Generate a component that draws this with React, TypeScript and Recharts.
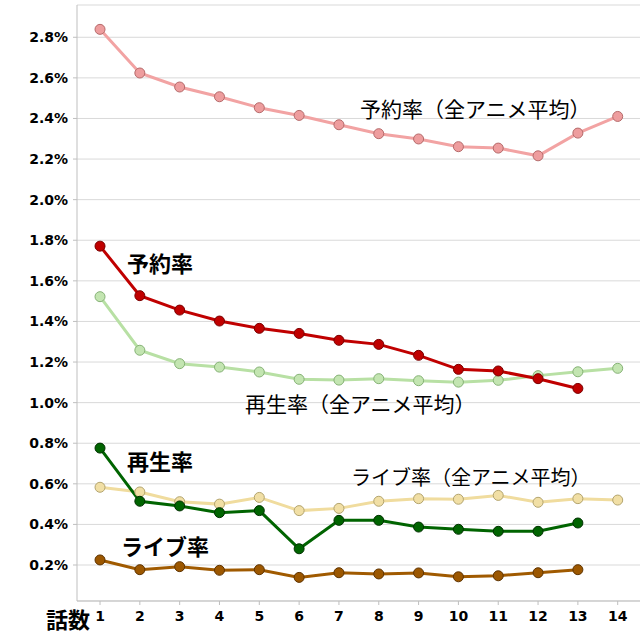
import { CartesianGrid, Line, LineChart, XAxis, YAxis } from 'recharts';

const episodes = [1, 2, 3, 4, 5, 6, 7, 8, 9, 10, 11, 12, 13, 14];

const reserveAvg = [2.839, 2.624, 2.555, 2.507, 2.453, 2.415, 2.369, 2.325, 2.299, 2.261, 2.254, 2.216, 2.328, 2.41];
const reserve = [1.771, 1.527, 1.456, 1.402, 1.366, 1.341, 1.307, 1.287, 1.233, 1.164, 1.156, 1.118, 1.07, null];
const playAvg = [1.522, 1.258, 1.192, 1.175, 1.151, 1.115, 1.111, 1.118, 1.108, 1.101, 1.11, 1.133, 1.152, 1.169];
const play = [0.776, 0.514, 0.491, 0.458, 0.468, 0.28, 0.42, 0.42, 0.387, 0.376, 0.366, 0.366, 0.407, null];
const liveAvg = [0.583, 0.56, 0.512, 0.5, 0.533, 0.468, 0.479, 0.514, 0.527, 0.524, 0.543, 0.509, 0.527, 0.52];
const live = [0.225, 0.177, 0.192, 0.174, 0.177, 0.139, 0.162, 0.156, 0.161, 0.142, 0.147, 0.162, 0.177, null];

const yTicks = [0.2, 0.4, 0.6, 0.8, 1.0, 1.2, 1.4, 1.6, 1.8, 2.0, 2.2, 2.4, 2.6, 2.8];

const data = episodes.map((ep, i) => ({
  ep,
  reserveAvg: reserveAvg[i],
  reserve: reserve[i],
  playAvg: playAvg[i],
  play: play[i],
  liveAvg: liveAvg[i],
  live: live[i],
}));

const tickFont = { fontFamily: 'DejaVu Sans', fontWeight: 700, fontSize: 14, fill: '#000' };
const jp = '"Noto Sans CJK JP", sans-serif';

// series labels placed like the original annotations
const labels = [
  { text: '予約率（全アニメ平均）', x: 360, y: 108, bold: false, size: 21 },
  { text: '予約率', x: 127, y: 262, bold: true, size: 22 },
  { text: '再生率（全アニメ平均）', x: 245, y: 403, bold: false, size: 21 },
  { text: '再生率', x: 127, y: 460, bold: true, size: 22 },
  { text: 'ライブ率（全アニメ平均）', x: 351, y: 477, bold: false, size: 20 },
  { text: 'ライブ率', x: 121, y: 545, bold: true, size: 22 },
  { text: '話数', x: 46, y: 618, bold: true, size: 22 },
];

export default function App() {
  return (
    <div style={{ position: 'absolute', top: 0, left: 0, width: 640, height: 640, background: '#fff' }}>
      <LineChart width={640} height={640} data={data} margin={{ top: 5, right: 0, left: 0, bottom: 0 }}>
        <CartesianGrid vertical={false} stroke="#d9d9d9" />
        <XAxis
          dataKey="ep"
          type="number"
          domain={[0.422, 14.56]}
          ticks={episodes}
          allowDataOverflow
          height={39}
          stroke="#bfbfbf"
          tickSize={4}
          tick={tickFont}
          tickMargin={6}
        />
        <YAxis
          domain={[0.0227, 2.959]}
          ticks={yTicks}
          allowDataOverflow
          width={77}
          stroke="#bfbfbf"
          tickSize={4}
          tickMargin={5}
          tick={tickFont}
          tickFormatter={(v: number) => `${v.toFixed(1)}%`}
        />
        <Line dataKey="reserveAvg" stroke="#f2a3a3" strokeWidth={3} dot={{ r: 5, fill: '#ee9d9e', stroke: '#b56a6a', strokeWidth: 1 }} isAnimationActive={false} />
        <Line dataKey="playAvg" stroke="#b8e0a4" strokeWidth={3} dot={{ r: 5, fill: '#c3e5b1', stroke: '#86b276', strokeWidth: 1 }} isAnimationActive={false} />
        <Line dataKey="liveAvg" stroke="#f0dc9e" strokeWidth={3} dot={{ r: 5, fill: '#f1dfa5', stroke: '#b3a46e', strokeWidth: 1 }} isAnimationActive={false} />
        <Line dataKey="reserve" stroke="#c00000" strokeWidth={3} dot={{ r: 5, fill: '#c00000', stroke: '#7a0000', strokeWidth: 1 }} isAnimationActive={false} />
        <Line dataKey="play" stroke="#006400" strokeWidth={3} dot={{ r: 5, fill: '#006400', stroke: '#003000', strokeWidth: 1 }} isAnimationActive={false} />
        <Line dataKey="live" stroke="#a05a00" strokeWidth={3} dot={{ r: 5, fill: '#9c5700', stroke: '#5e3300', strokeWidth: 1 }} isAnimationActive={false} />
      </LineChart>
      {labels.map((l) => (
        <div
          key={l.text}
          style={{
            position: 'absolute',
            left: l.x,
            top: l.y,
            transform: 'translateY(-50%)',
            fontFamily: jp,
            fontWeight: l.bold ? 700 : 400,
            fontSize: l.size,
            lineHeight: 1,
            whiteSpace: 'nowrap',
            color: '#000',
          }}
        >
          {l.text}
        </div>
      ))}
    </div>
  );
}
